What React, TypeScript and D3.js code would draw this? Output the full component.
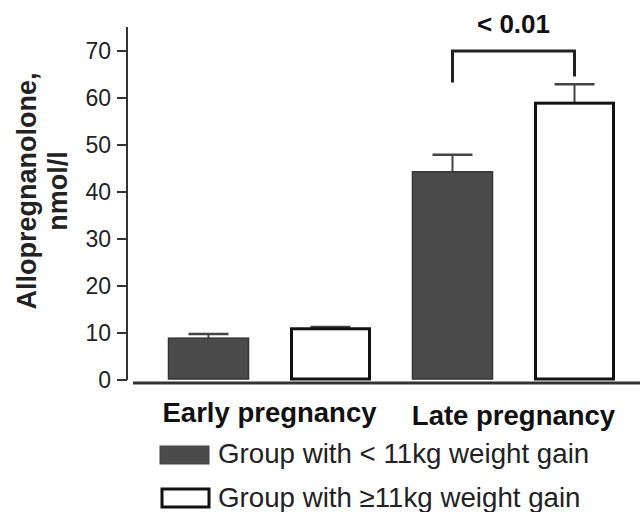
import React from "react";
import * as d3 from "d3";

const categories = ["Early pregnancy", "Late pregnancy"];
const groups = ["Group with < 11kg weight gain", "Group with \u226511kg weight gain"];
const lowGain = [8.9, 44.3];
const highGain = [10.9, 58.9];
const lowGainErr = [0.9, 3.6];
const highGainErr = [0.4, 4.0];
const yTicks = [0, 10, 20, 30, 40, 50, 60, 70];
const pLabel = "< 0.01";

const W = 640;
const H = 512;
const FONT = "'Liberation Sans', Arial, sans-serif";

export default function App() {
  const y = d3.scaleLinear().domain([0, 70]).range([380, 51]);
  const keys = categories.flatMap((c) => groups.map((g) => c + "|" + g));
  const x = d3.scaleBand().domain(keys).range([147.5, 635.5]).paddingInner(0.336).paddingOuter(0.168);
  const bars = categories.flatMap((c, i) => [
    { key: c + "|" + groups[0], v: lowGain[i], e: lowGainErr[i], g: 0 },
    { key: c + "|" + groups[1], v: highGain[i], e: highGainErr[i], g: 1 },
  ]);
  const bw = x.bandwidth();
  const catCenter = (i: number) => {
    const a = x(categories[i] + "|" + groups[0])!;
    const b = x(categories[i] + "|" + groups[1])! + bw;
    return (a + b) / 2;
  };
  const b1 = x(categories[1] + "|" + groups[0])! + bw / 2;
  const b2 = x(categories[1] + "|" + groups[1])! + bw / 2;
  const brTop = y(70);
  return (
    <svg width={W} height={H} style={{ position: "absolute", left: 0, top: 0 }} fontFamily={FONT}>
      <rect width={W} height={H} fill="#fff" />
      <line x1={127} x2={127} y1={y(0)} y2={y(75.1)} stroke="#333" strokeWidth={2} />
      {yTicks.map((t) => (
        <g key={t}>
          <line x1={117} x2={127} y1={y(t)} y2={y(t)} stroke="#333" strokeWidth={2} />
          <text x={111} y={y(t)} dy="0.36em" textAnchor="end" fontSize={23} fill="#222">
            {t}
          </text>
        </g>
      ))}
      <g transform="translate(0,191) rotate(-90)" fontWeight="bold" fontSize={27} fill="#222" textAnchor="middle">
        <text x={0} y={36}>Allopregnanolone,</text>
        <text x={0} y={67}>nmol/l</text>
      </g>
      <line x1={133} x2={640} y1={383} y2={383} stroke="#333" strokeWidth={3} />
      {bars.map((b) => {
        const x0 = x(b.key)!;
        const cx = x0 + bw / 2;
        return (
          <g key={b.key}>
            <line x1={cx} x2={cx} y1={y(b.v)} y2={y(b.v + b.e)} stroke="#444" strokeWidth={2} />
            <line x1={cx - 20} x2={cx + 20} y1={y(b.v + b.e)} y2={y(b.v + b.e)} stroke="#444" strokeWidth={2.5} />
            <rect
              x={x0 + (b.g ? 1.5 : 0.5)}
              y={y(b.v)}
              width={bw - (b.g ? 3 : 1)}
              height={y(0) - y(b.v) - 1}
              fill={b.g ? "#fff" : "#4b4b4b"}
              stroke={b.g ? "#111" : "#333"}
              strokeWidth={b.g ? 3 : 1.5}
            />
          </g>
        );
      })}
      <path
        d={`M${b1},${y(63.3)} V${brTop} H${b2} V${y(64.6)}`}
        fill="none"
        stroke="#222"
        strokeWidth={3}
      />
      <text x={(b1 + b2) / 2} y={33} textAnchor="middle" fontWeight="bold" fontSize={26} fill="#111">
        {pLabel}
      </text>
      {categories.map((c, i) => (
        <text key={c} x={catCenter(i)} y={i === 0 ? 422 : 425} textAnchor="middle" fontWeight="bold" fontSize={27.5} fill="#111">
          {c}
        </text>
      ))}
      {groups.map((g, i) => (
        <g key={g}>
          <rect
            x={i ? 162 : 160}
            y={i ? 489 : 446}
            width={i ? 47 : 49}
            height={18}
            fill={i ? "#fff" : "#4b4b4b"}
            stroke={i ? "#111" : "#444"}
            strokeWidth={i ? 3 : 1}
          />
          <text x={218} y={i ? 507 : 463} fontSize={27.7} fill="#222">
            {g}
          </text>
        </g>
      ))}
    </svg>
  );
}
